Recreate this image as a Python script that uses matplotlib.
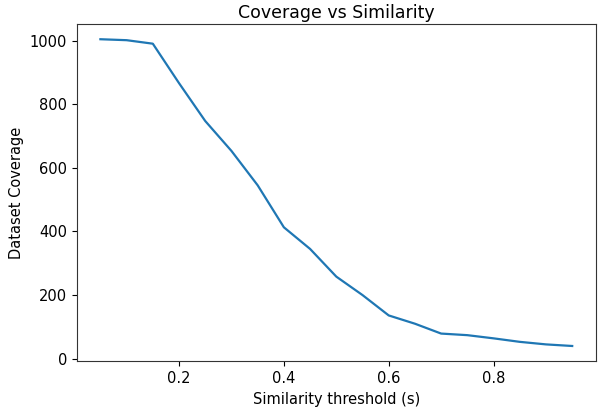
import matplotlib
matplotlib.use('Agg')
import matplotlib.pyplot as plt

# similarity thresholds and how many dataset items are still covered
thresholds = [0.05, 0.10, 0.15, 0.20, 0.25, 0.30, 0.35, 0.40, 0.45, 0.50,
              0.55, 0.60, 0.65, 0.70, 0.75, 0.80, 0.85, 0.90, 0.95]
coverage = [1004, 1001, 990, 866, 747, 653, 545, 413, 345, 258,
            200, 136, 110, 79, 74, 64, 53, 45, 40]

fig = plt.figure(figsize=(6.0, 4.12), dpi=100)
ax = fig.add_axes([0.128, 0.123, 0.865, 0.819])

ax.plot(thresholds, coverage, color='#1f77b4', linewidth=1.6)

ax.set_title('Coverage vs Similarity', fontsize=12.5, pad=4)
ax.set_xlabel('Similarity threshold (s)', fontsize=10.5)
ax.set_ylabel('Dataset Coverage', fontsize=10.5)
ax.set_xticks([0.2, 0.4, 0.6, 0.8])
ax.set_yticks([0, 200, 400, 600, 800, 1000])
ax.tick_params(labelsize=10.5)
for spine in ax.spines.values():
    spine.set_color('#333333')

fig.savefig('out.png', dpi=100)
